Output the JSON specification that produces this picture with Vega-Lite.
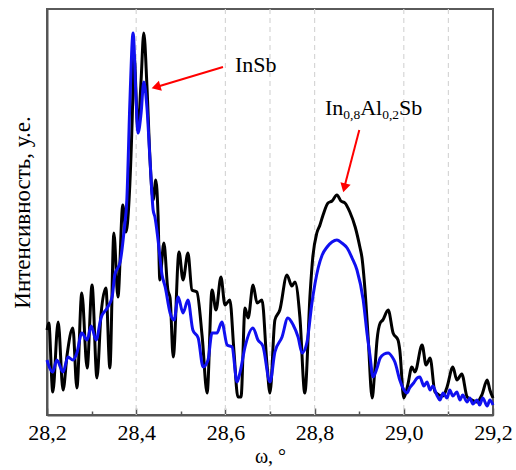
{
  "$schema": "https://vega.github.io/schema/vega-lite/v6.json",
  "width": 446,
  "height": 406,
  "autosize": {"type": "none"},
  "padding": {"left": 47, "top": 9, "right": 23, "bottom": 55},
  "background": "white",
  "config": {
    "view": {"stroke": "#5a5a5a", "strokeWidth": 2},
    "font": "Times New Roman, Liberation Serif, DejaVu Serif, serif"
  },
  "datasets": {
    "black": [
      {"x":28.200,"y":85},{"x":28.204,"y":92},{"x":28.213,"y":23},{"x":28.225,"y":93},{"x":28.236,"y":25},{"x":28.245,"y":60},{"x":28.258,"y":87},{"x":28.267,"y":27},{"x":28.278,"y":122},{"x":28.290,"y":47},{"x":28.301,"y":130},{"x":28.312,"y":37},{"x":28.321,"y":100},{"x":28.332,"y":127},{"x":28.341,"y":47},{"x":28.350,"y":182},{"x":28.359,"y":118},{"x":28.370,"y":210},{"x":28.377,"y":183},{"x":28.384,"y":215},{"x":28.391,"y":295},{"x":28.395,"y":360},{"x":28.404,"y":285},{"x":28.411,"y":335},{"x":28.417,"y":382},{"x":28.424,"y":330},{"x":28.431,"y":255},{"x":28.438,"y":215},{"x":28.444,"y":235},{"x":28.449,"y":200},{"x":28.453,"y":135},{"x":28.462,"y":172},{"x":28.471,"y":125},{"x":28.476,"y":117},{"x":28.483,"y":58},{"x":28.496,"y":163},{"x":28.505,"y":135},{"x":28.516,"y":162},{"x":28.525,"y":125},{"x":28.536,"y":123},{"x":28.548,"y":78},{"x":28.559,"y":22},{"x":28.570,"y":125},{"x":28.579,"y":105},{"x":28.590,"y":138},{"x":28.599,"y":110},{"x":28.610,"y":115},{"x":28.619,"y":65},{"x":28.628,"y":18},{"x":28.635,"y":18},{"x":28.644,"y":107},{"x":28.651,"y":97},{"x":28.662,"y":130},{"x":28.671,"y":112},{"x":28.682,"y":115},{"x":28.693,"y":52},{"x":28.700,"y":22},{"x":28.711,"y":95},{"x":28.722,"y":105},{"x":28.738,"y":140},{"x":28.749,"y":129},{"x":28.756,"y":133},{"x":28.767,"y":98},{"x":28.778,"y":22},{"x":28.790,"y":122},{"x":28.796,"y":158},{"x":28.805,"y":182},{"x":28.812,"y":190},{"x":28.819,"y":200},{"x":28.830,"y":212},{"x":28.839,"y":214},{"x":28.850,"y":220},{"x":28.859,"y":214},{"x":28.868,"y":212},{"x":28.879,"y":203},{"x":28.891,"y":188},{"x":28.902,"y":167},{"x":28.906,"y":158},{"x":28.913,"y":125},{"x":28.920,"y":78},{"x":28.929,"y":17},{"x":28.935,"y":45},{"x":28.940,"y":75},{"x":28.947,"y":92},{"x":28.953,"y":95},{"x":28.965,"y":105},{"x":28.976,"y":82},{"x":28.987,"y":75},{"x":28.991,"y":65},{"x":29.000,"y":17},{"x":29.009,"y":30},{"x":29.018,"y":48},{"x":29.025,"y":43},{"x":29.041,"y":70},{"x":29.050,"y":50},{"x":29.059,"y":57},{"x":29.070,"y":23},{"x":29.088,"y":19},{"x":29.097,"y":28},{"x":29.110,"y":48},{"x":29.119,"y":35},{"x":29.130,"y":41},{"x":29.142,"y":18},{"x":29.153,"y":15},{"x":29.164,"y":13},{"x":29.175,"y":20},{"x":29.187,"y":35},{"x":29.193,"y":25},{"x":29.200,"y":17}
    ],
    "blue": [
      {"x":28.200,"y":55},{"x":28.202,"y":52},{"x":28.213,"y":43},{"x":28.222,"y":55},{"x":28.236,"y":43},{"x":28.247,"y":58},{"x":28.258,"y":55},{"x":28.267,"y":62},{"x":28.278,"y":82},{"x":28.290,"y":75},{"x":28.299,"y":89},{"x":28.310,"y":75},{"x":28.321,"y":97},{"x":28.335,"y":107},{"x":28.346,"y":118},{"x":28.352,"y":140},{"x":28.364,"y":153},{"x":28.373,"y":185},{"x":28.379,"y":215},{"x":28.386,"y":315},{"x":28.393,"y":382},{"x":28.400,"y":312},{"x":28.404,"y":282},{"x":28.411,"y":302},{"x":28.417,"y":333},{"x":28.424,"y":308},{"x":28.431,"y":255},{"x":28.438,"y":205},{"x":28.442,"y":198},{"x":28.449,"y":175},{"x":28.458,"y":140},{"x":28.465,"y":128},{"x":28.476,"y":102},{"x":28.485,"y":95},{"x":28.494,"y":118},{"x":28.505,"y":102},{"x":28.516,"y":115},{"x":28.527,"y":85},{"x":28.539,"y":77},{"x":28.550,"y":48},{"x":28.561,"y":55},{"x":28.570,"y":82},{"x":28.581,"y":82},{"x":28.592,"y":93},{"x":28.604,"y":70},{"x":28.615,"y":68},{"x":28.626,"y":33},{"x":28.633,"y":43},{"x":28.644,"y":68},{"x":28.662,"y":87},{"x":28.673,"y":75},{"x":28.684,"y":69},{"x":28.700,"y":33},{"x":28.711,"y":63},{"x":28.727,"y":78},{"x":28.740,"y":97},{"x":28.752,"y":90},{"x":28.763,"y":78},{"x":28.772,"y":62},{"x":28.783,"y":73},{"x":28.794,"y":112},{"x":28.808,"y":147},{"x":28.817,"y":160},{"x":28.828,"y":168},{"x":28.839,"y":173},{"x":28.850,"y":175},{"x":28.861,"y":172},{"x":28.873,"y":167},{"x":28.884,"y":157},{"x":28.895,"y":145},{"x":28.909,"y":115},{"x":28.918,"y":80},{"x":28.924,"y":60},{"x":28.931,"y":38},{"x":28.940,"y":47},{"x":28.947,"y":57},{"x":28.956,"y":61},{"x":28.965,"y":62},{"x":28.974,"y":58},{"x":28.980,"y":53},{"x":28.991,"y":35},{"x":28.998,"y":27},{"x":29.007,"y":22},{"x":29.013,"y":27},{"x":29.022,"y":32},{"x":29.030,"y":37},{"x":29.036,"y":38},{"x":29.045,"y":29},{"x":29.052,"y":33},{"x":29.059,"y":25},{"x":29.065,"y":29},{"x":29.074,"y":20},{"x":29.081,"y":15},{"x":29.088,"y":22},{"x":29.097,"y":17},{"x":29.103,"y":25},{"x":29.110,"y":19},{"x":29.119,"y":23},{"x":29.126,"y":15},{"x":29.132,"y":20},{"x":29.142,"y":13},{"x":29.148,"y":17},{"x":29.155,"y":11},{"x":29.164,"y":15},{"x":29.170,"y":10},{"x":29.177,"y":17},{"x":29.187,"y":9},{"x":29.193,"y":15},{"x":29.200,"y":10}
    ]
  },
  "layer": [
    {
      "data": {"values": [{"x":28.4},{"x":28.6},{"x":28.7},{"x":28.8},{"x":29.0},{"x":29.1}]},
      "mark": {"type": "rule", "color": "#d6d6d6", "strokeWidth": 1.2, "strokeDash": [5, 4]},
      "encoding": {
        "x": {"field": "x", "type": "quantitative", "scale": {"domain": [28.2, 29.2], "nice": false, "zero": false}, "axis": null}
      }
    },
    {
      "data": {"name": "black"},
      "mark": {"type": "line", "color": "#000000", "strokeWidth": 3, "interpolate": "monotone"},
      "encoding": {
        "x": {"field": "x", "type": "quantitative", "scale": {"domain": [28.2, 29.2], "nice": false, "zero": false},
          "axis": {"orient": "bottom", "values": [28.2, 28.4, 28.6, 28.8, 29.0, 29.2],
            "labelExpr": "replace(format(datum.value, '.1f'), '.', ',')",
            "tickSize": -7, "tickColor": "#555555", "tickWidth": 1.5,
            "domainColor": "#555555", "domainWidth": 2,
            "labelFontSize": 22, "labelFont": "Times New Roman, Liberation Serif, DejaVu Serif, serif", "labelColor": "#000000", "labelPadding": 14,
            "labelFlush": false, "labelOverlap": false, "grid": false,
            "title": "ω, °", "titleFontSize": 20, "titleFont": "Times New Roman, Liberation Serif, DejaVu Serif, serif", "titleFontWeight": "normal", "titleColor": "#000000", "titlePadding": 3}},
        "y": {"field": "y", "type": "quantitative", "scale": {"domain": [0, 406], "nice": false, "zero": false},
          "axis": {"ticks": false, "labels": false, "grid": false, "domainColor": "#555555", "domainWidth": 2,
            "title": "Интенсивность, у.е.", "titleFont": "Times New Roman, Liberation Serif, DejaVu Serif, serif", "titleFontSize": 23, "titleFontWeight": "normal", "titleColor": "#000000", "titlePadding": 13}}
      }
    },
    {
      "data": {"name": "blue"},
      "mark": {"type": "line", "color": "#1010f0", "strokeWidth": 3, "interpolate": "monotone"},
      "encoding": {
        "x": {"field": "x", "type": "quantitative", "scale": {"domain": [28.2, 29.2], "nice": false, "zero": false},
          "axis": {"orient": "bottom", "values": [28.3, 28.5, 28.7, 28.9, 29.1], "labels": false, "tickSize": -4, "tickColor": "#555555", "tickWidth": 1.5, "domain": false, "grid": false, "title": null}},
        "y": {"field": "y", "type": "quantitative", "scale": {"domain": [0, 406], "nice": false, "zero": false}}
      }
    },
    {
      "data": {"values": [{"x": 28.5946, "y": 348, "x2": 28.449, "y2": 328.5}, {"x": 28.9002, "y": 285, "x2": 28.868, "y2": 230}]},
      "mark": {"type": "rule", "color": "#ff0000", "strokeWidth": 2},
      "encoding": {
        "x": {"field": "x", "type": "quantitative", "scale": {"domain": [28.2, 29.2], "nice": false, "zero": false}, "axis": null},
        "y": {"field": "y", "type": "quantitative", "scale": {"domain": [0, 406], "nice": false, "zero": false}},
        "x2": {"field": "x2"},
        "y2": {"field": "y2"}
      }
    },
    {
      "data": {"values": [{"x": 28.4444, "y": 328}]},
      "mark": {"type": "point", "shape": "triangle-up", "filled": true, "color": "#ff0000", "opacity": 1, "size": 110, "angle": 253.5},
      "encoding": {
        "x": {"field": "x", "type": "quantitative", "scale": {"domain": [28.2, 29.2], "nice": false, "zero": false}, "axis": null},
        "y": {"field": "y", "type": "quantitative", "scale": {"domain": [0, 406], "nice": false, "zero": false}}
      }
    },
    {
      "data": {"values": [{"x": 28.8668, "y": 227.1}]},
      "mark": {"type": "point", "shape": "triangle-up", "filled": true, "color": "#ff0000", "opacity": 1, "size": 110, "angle": 194.5},
      "encoding": {
        "x": {"field": "x", "type": "quantitative", "scale": {"domain": [28.2, 29.2], "nice": false, "zero": false}, "axis": null},
        "y": {"field": "y", "type": "quantitative", "scale": {"domain": [0, 406], "nice": false, "zero": false}}
      }
    },
    {
      "data": {"values": [{"t": "InSb", "x": 28.6215, "y": 343}, {"t": "In", "x": 28.8233, "y": 300}, {"t": "Al", "x": 28.9022, "y": 300}, {"t": "Sb", "x": 28.9895, "y": 300}]},
      "mark": {"type": "text", "font": "Times New Roman, Liberation Serif, DejaVu Serif, serif", "fontSize": 22, "align": "left", "baseline": "alphabetic", "color": "#000000"},
      "encoding": {
        "x": {"field": "x", "type": "quantitative", "scale": {"domain": [28.2, 29.2], "nice": false, "zero": false}, "axis": null},
        "y": {"field": "y", "type": "quantitative", "scale": {"domain": [0, 406], "nice": false, "zero": false}},
        "text": {"field": "t"}
      }
    },
    {
      "data": {"values": [{"t": "0,8", "x": 28.8643, "y": 296}, {"t": "0,2", "x": 28.9516, "y": 296}]},
      "mark": {"type": "text", "font": "Times New Roman, Liberation Serif, DejaVu Serif, serif", "fontSize": 13.5, "align": "left", "baseline": "alphabetic", "color": "#000000"},
      "encoding": {
        "x": {"field": "x", "type": "quantitative", "scale": {"domain": [28.2, 29.2], "nice": false, "zero": false}, "axis": null},
        "y": {"field": "y", "type": "quantitative", "scale": {"domain": [0, 406], "nice": false, "zero": false}},
        "text": {"field": "t"}
      }
    }
  ],
  "resolve": {"axis": {"x": "independent"}}
}
